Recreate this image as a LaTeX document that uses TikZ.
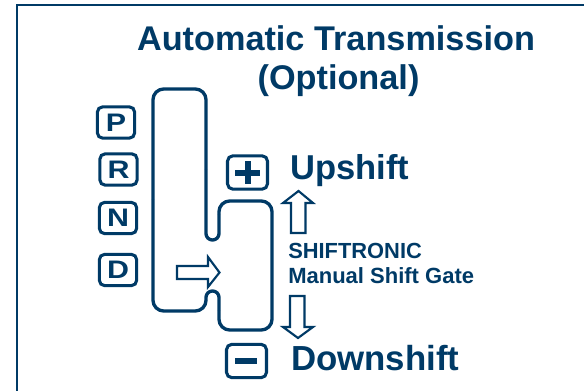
\documentclass[tikz,border=0pt]{standalone}
\usepackage{fontspec}
\setmainfont{Liberation Sans}
\definecolor{navy}{HTML}{003A66}
\newcommand{\keyletter}[1]{\scalebox{1.2}[1]{#1}}
\tikzset{
  px/.style={x=0.75pt,y=-0.75pt},
  gate/.style={draw=navy,line width=2.5pt,line join=round},
  hollow/.style={draw=navy,line width=1.6pt,fill=white,miter limit=10},
  keybox/.style={draw=navy,line width=2.3pt,rounded corners=4pt,minimum width=28pt,minimum height=23.5pt,inner sep=0pt,font=\bfseries\fontsize{19}{19}\selectfont,text=navy},
  lab/.style={inner sep=0pt,font=\bfseries,text=navy,anchor=base west},
}
\begin{document}
\begin{tikzpicture}[px]
\useasboundingbox (0,0) rectangle (584,391);
\draw[navy,line width=1.6pt] (17,395) -- (17,5) -- (590,5);
% title
\node[inner sep=0pt,text=navy,font=\bfseries\fontsize{25.7}{25.7}\selectfont,anchor=base] (title1) at (336,50.5) {Automatic Transmission};
\node[inner sep=0pt,text=navy,font=\bfseries\fontsize{25.7}{25.7}\selectfont,anchor=base] (title2) at (338.5,89.5) {(Optional)};
% keys
\node[keybox] (keyP) at (116,122.5) {\keyletter{P}};
\node[keybox] (keyR) at (118.5,169.5) {\keyletter{R}};
\node[keybox] (keyN) at (118,218) {\keyletter{N}};
\node[keybox] (keyD) at (118,270) {\keyletter{D}};
\node[keybox,minimum width=30pt,minimum height=25pt] (keyPlus) at (247.5,172.5) {};
\node[keybox,minimum width=30pt,minimum height=25pt] (keyMinus) at (246.5,361) {};
\fill[navy] (235,170) rectangle (260,176);
\fill[navy] (244.5,161) rectangle (250.5,184.5);
\fill[navy] (235,357.5) rectangle (257,363.5);
% gate
\draw[gate,rounded corners=8pt] (153,200) -- (153,89) -- (206,89) -- (206,170);
\draw[gate,rounded corners=4.8pt] (206,170) -- (206,240) -- (219,240) -- (219,215);
\draw[gate,rounded corners=8pt] (219,215) -- (219,201) -- (272,201) -- (272,330) -- (219,330) -- (219,310);
\draw[gate,rounded corners=4.8pt] (219,310) -- (219,291) -- (206,291) -- (206,300);
\draw[gate,rounded corners=8pt] (206,300) -- (206,311) -- (153,311) -- (153,200);
% arrows
\draw[hollow] (177,266) -- (208,266) -- (208,257) -- (219.5,272.5) -- (208,287) -- (208,279) -- (177,279) -- cycle;
\draw[hollow] (291,233) -- (291,203) -- (283,203) -- (298.5,191) -- (313,203) -- (305.5,203) -- (305.5,233) -- cycle;
\draw[hollow] (290,296) -- (290,327) -- (283,327) -- (298,338) -- (313,327) -- (304.5,327) -- (304.5,296) -- cycle;
% labels
\node[lab,font=\bfseries\fontsize{25.9}{26}\selectfont] (up) at (290,180) {Upshift};
\node[lab,font=\bfseries\fontsize{26.1}{26}\selectfont] (down) at (291,370.5) {Downshift};
\node[lab,font=\bfseries\fontsize{16.4}{16.4}\selectfont] (shift) at (288,258) {SHIFTRONIC};
\node[lab,font=\bfseries\fontsize{16.5}{16.5}\selectfont] (gatelab) at (288,283.5) {Manual Shift Gate};
\end{tikzpicture}
\end{document}
